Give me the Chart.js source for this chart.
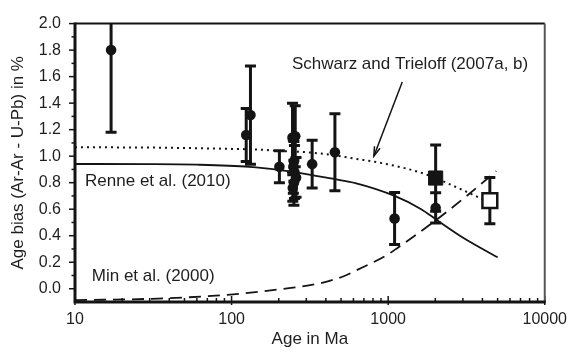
<!DOCTYPE html>
<html>
<head>
<meta charset="utf-8">
<script src="https://cdn.jsdelivr.net/npm/chart.js@4/dist/chart.umd.min.js"></script>
<style>
  html, body { margin: 0; padding: 0; background: #fff; }
  #wrap { width: 575px; height: 352px; }
</style>
</head>
<body>
<div id="wrap"><canvas id="biasChart" width="575" height="352"></canvas></div>
<script>
// ---- data ----
// filled circles: age (Ma), bias (%), half error (%)
const circleAge  = [17, 124, 132, 202, 245, 255, 250, 248, 252, 258, 250, 246, 327, 457, 1099, 2010];
const circleBias = [1.80, 1.16, 1.31, 0.92, 1.14, 1.15, 0.96, 0.92, 0.88, 0.84, 0.80, 0.76, 0.94, 1.03, 0.53, 0.61];
const circleErr  = [0.62, 0.20, 0.37, 0.12, 0.26, 0.23, 0.15, 0.20, 0.20, 0.15, 0.17, 0.10, 0.18, 0.29, 0.196, 0.115];

// filled square
const sqAge  = [2010];
const sqBias = [0.835];
const sqErr  = [0.25];

// open square
const openAge  = [4460];
const openBias = [0.665];
const openErr  = [0.175];

// Schwarz and Trieloff (2007a, b) – dotted
const schwarzAge  = [10, 30, 60, 100, 145, 200, 300, 420, 620, 820, 1270, 1770, 2620, 4100];
const schwarzBias = [1.067, 1.065, 1.06, 1.055, 1.05, 1.04, 1.03, 1.012, 0.98, 0.958, 0.91, 0.86, 0.775, 0.67];

// Renne et al. (2010) – solid
const renneAge  = [10, 30, 60, 130, 200, 300, 457, 617, 1100, 1626, 2036, 3010, 5000];
const renneBias = [0.941, 0.94, 0.936, 0.92, 0.897, 0.865, 0.826, 0.797, 0.70, 0.60, 0.52, 0.385, 0.237];

// Min et al. (2000) – dashed
const minAge  = [10, 34, 98, 233, 383, 534, 617, 1000, 1153, 2036, 3170, 4900];
const minBias = [-0.086, -0.074, -0.044, 0.005, 0.046, 0.10, 0.135, 0.26, 0.31, 0.52, 0.70, 0.887];

// ticks
const xMajor = [10, 100, 1000, 10000];
const xMinor = [20, 30, 40, 50, 60, 70, 80, 90, 200, 300, 400, 500, 600, 700, 800, 900,
                2000, 3000, 4000, 5000, 6000, 7000, 8000, 9000];
const yMajor = [0, 0.2, 0.4, 0.6, 0.8, 1.0, 1.2, 1.4, 1.6, 1.8, 2.0];
const yMinor = [0.1, 0.3, 0.5, 0.7, 0.9, 1.1, 1.3, 1.5, 1.7, 1.9];

// text labels (data coords)
const labels = [
    { text: 'Schwarz and Trieloff (2007a, b)', x: 243, y: 1.69 },
    { text: 'Renne et al. (2010)', x: 11.6, y: 0.81 },
    { text: 'Min et al. (2000)', x: 12.8, y: 0.09 }
];
const arrowFrom = { x: 1230, y: 1.56 };
const arrowTo   = { x: 810,  y: 1.0 };

const FONT = '"Liberation Sans", Arial, Helvetica, sans-serif';
const INK = '#141414';

function pts(ages, vals, errs) {
    return ages.map((a, i) => ({
        x: a, y: vals[i],
        yMin: errs ? vals[i] - errs[i] : null,
        yMax: errs ? vals[i] + errs[i] : null
    }));
}

// error bars, drawn under the markers
const errorBarPlugin = {
    id: 'errorBars',
    beforeDatasetsDraw(chart) {
        const { ctx, chartArea: a, scales: { y } } = chart;
        ctx.save();
        ctx.beginPath();
        ctx.rect(a.left, a.top, a.right - a.left, a.bottom - a.top);
        ctx.clip();
        ctx.strokeStyle = INK;
        ctx.lineWidth = 3;
        ctx.lineCap = 'butt';
        chart.data.datasets.forEach((ds, di) => {
            if (!ds.errorBars) return;
            const meta = chart.getDatasetMeta(di);
            meta.data.forEach((el, i) => {
                const raw = ds.data[i];
                const px = el.x;
                const top = y.getPixelForValue(raw.yMax);
                const bot = y.getPixelForValue(raw.yMin);
                ctx.beginPath();
                ctx.moveTo(px, top);
                ctx.lineTo(px, bot);
                ctx.moveTo(px - 5.5, top);
                ctx.lineTo(px + 5.5, top);
                ctx.moveTo(px - 5.5, bot);
                ctx.lineTo(px + 5.5, bot);
                ctx.stroke();
            });
        });
        ctx.restore();
    }
};

// frame + tick marks + text labels
const decorPlugin = {
    id: 'decor',
    afterDraw(chart) {
        const { ctx, chartArea: a, scales: { x, y } } = chart;
        ctx.save();
        ctx.strokeStyle = INK;

        // y ticks (outside, left)
        ctx.lineWidth = 1.5;
        yMajor.forEach(v => {
            const py = y.getPixelForValue(v);
            ctx.beginPath(); ctx.moveTo(a.left - 6, py); ctx.lineTo(a.left, py); ctx.stroke();
        });
        yMinor.forEach(v => {
            const py = y.getPixelForValue(v);
            ctx.beginPath(); ctx.moveTo(a.left - 3.5, py); ctx.lineTo(a.left, py); ctx.stroke();
        });
        // x ticks (inside, up)
        xMajor.forEach(v => {
            const px = x.getPixelForValue(v);
            ctx.beginPath(); ctx.moveTo(px, a.bottom + 3); ctx.lineTo(px, a.bottom - 6); ctx.stroke();
        });
        xMinor.forEach(v => {
            const px = x.getPixelForValue(v);
            ctx.beginPath(); ctx.moveTo(px, a.bottom); ctx.lineTo(px, a.bottom - 4); ctx.stroke();
        });

        // frame
        ctx.lineWidth = 2;
        ctx.strokeStyle = INK;
        ctx.beginPath(); ctx.moveTo(a.left, a.top); ctx.lineTo(a.right, a.top); ctx.stroke();
        ctx.strokeStyle = '#555';
        ctx.beginPath(); ctx.moveTo(a.right, a.top); ctx.lineTo(a.right, a.bottom); ctx.stroke();
        ctx.strokeStyle = INK;
        ctx.lineWidth = 3;
        ctx.beginPath(); ctx.moveTo(a.left, a.top - 1); ctx.lineTo(a.left, a.bottom); ctx.lineTo(a.right + 1, a.bottom); ctx.stroke();

        // labels
        ctx.fillStyle = '#1e1e1e';
        ctx.font = '17px ' + FONT;
        ctx.textAlign = 'left';
        ctx.textBaseline = 'middle';
        labels.forEach(l => {
            ctx.fillText(l.text, x.getPixelForValue(l.x), y.getPixelForValue(l.y));
        });

        // arrow
        const x1 = x.getPixelForValue(arrowFrom.x), y1 = y.getPixelForValue(arrowFrom.y);
        const x2 = x.getPixelForValue(arrowTo.x),   y2 = y.getPixelForValue(arrowTo.y);
        ctx.lineWidth = 1.5;
        ctx.beginPath(); ctx.moveTo(x1, y1); ctx.lineTo(x2, y2); ctx.stroke();
        const ang = Math.atan2(y2 - y1, x2 - x1);
        const hl = 10, spread = 0.3;
        ctx.beginPath();
        ctx.moveTo(x2 - hl * Math.cos(ang - spread), y2 - hl * Math.sin(ang - spread));
        ctx.lineTo(x2, y2);
        ctx.lineTo(x2 - hl * Math.cos(ang + spread), y2 - hl * Math.sin(ang + spread));
        ctx.stroke();

        ctx.restore();
    }
};

const lineCommon = {
    showLine: true,
    pointRadius: 0,
    borderColor: INK,
    borderWidth: 1.8,
    fill: false,
    cubicInterpolationMode: 'monotone'
};

new Chart(document.getElementById('biasChart'), {
    type: 'scatter',
    data: {
        datasets: [
            {
                label: 'open square',
                data: pts(openAge, openBias, openErr),
                errorBars: true,
                pointStyle: 'rect',
                pointRadius: 10.5,
                backgroundColor: '#fff',
                borderColor: INK,
                borderWidth: 2.5
            },
            {
                label: 'filled square',
                data: pts(sqAge, sqBias, sqErr),
                errorBars: true,
                pointStyle: 'rect',
                pointRadius: 10,
                backgroundColor: INK,
                borderColor: INK,
                borderWidth: 1
            },
            {
                label: 'circles',
                data: pts(circleAge, circleBias, circleErr),
                errorBars: true,
                pointStyle: 'circle',
                pointRadius: 5.3,
                backgroundColor: INK,
                borderColor: INK,
                borderWidth: 0
            },
            Object.assign({ label: 'Schwarz', data: pts(schwarzAge, schwarzBias), borderDash: [2, 4] }, lineCommon, { borderWidth: 2 }),
            Object.assign({ label: 'Renne', data: pts(renneAge, renneBias) }, lineCommon),
            Object.assign({ label: 'Min', data: pts(minAge, minBias), borderDash: [12, 7] }, lineCommon)
        ]
    },
    options: {
        responsive: false,
        animation: false,
        events: [],
        layout: { padding: { left: 0, right: 22, top: 17, bottom: 0 } },
        scales: {
            x: {
                type: 'logarithmic',
                min: 10,
                max: 10000,
                afterBuildTicks: s => { s.ticks = xMajor.map(v => ({ value: v, major: true })); },
                afterFit: s => { s.height = 50; },
                grid: { display: false, drawTicks: false },
                border: { display: false },
                ticks: {
                    autoSkip: false,
                    maxRotation: 0,
                    padding: 8,
                    color: '#1e1e1e',
                    font: { family: FONT, size: 16 },
                    callback: v => String(v)
                },
                title: {
                    display: true,
                    text: 'Age in Ma',
                    color: '#1e1e1e',
                    font: { family: FONT, size: 17 },
                    padding: { top: 0, bottom: 2 }
                }
            },
            y: {
                min: -0.1,
                max: 2.0,
                afterBuildTicks: s => { s.ticks = yMajor.map(v => ({ value: v })); },
                afterFit: s => { s.width = 75; },
                grid: { display: false, drawTicks: false },
                border: { display: false },
                ticks: {
                    padding: 14,
                    color: '#1e1e1e',
                    font: { family: FONT, size: 16 },
                    callback: v => v.toFixed(1)
                },
                title: {
                    display: true,
                    text: 'Age bias (Ar-Ar - U-Pb) in %',
                    color: '#1e1e1e',
                    font: { family: FONT, size: 17 },
                    padding: { top: 8, bottom: 0 }
                }
            }
        },
        plugins: {
            legend: { display: false },
            tooltip: { enabled: false }
        }
    },
    plugins: [errorBarPlugin, decorPlugin]
});
</script>
</body>
</html>
